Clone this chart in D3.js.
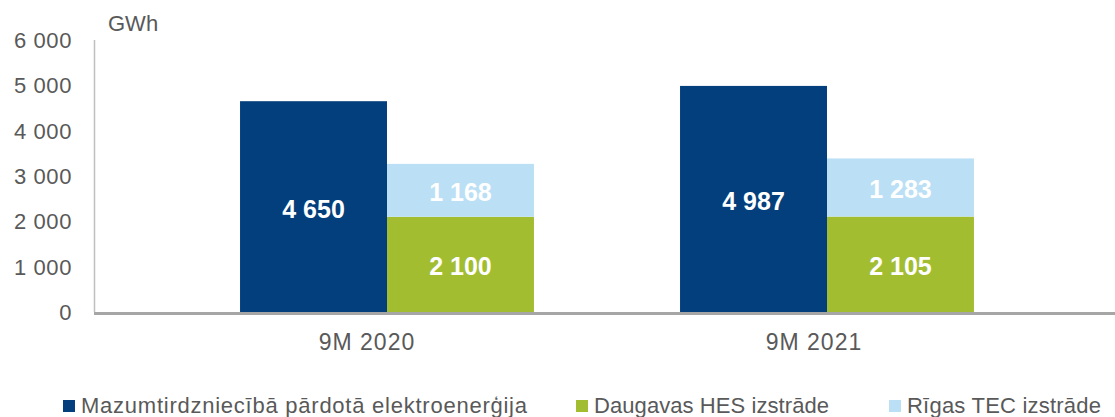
<!DOCTYPE html>
<html>
<head>
<meta charset="utf-8">
<script src="https://cdn.jsdelivr.net/npm/d3@7"></script>
<style>
  body { margin: 0; background: #fff; }
  svg text { font-family: "Liberation Sans", Arial, sans-serif; }
</style>
</head>
<body>
<div id="chart"></div>
<script>
// Data
var categories = ["9M 2020", "9M 2021"];
var retailSales = [4650, 4987];      // Mazumtirdzniecībā pārdotā elektroenerģija
var daugavasHes = [2100, 2105];      // Daugavas HES izstrāde
var rigasTec = [1168, 1283];         // Rīgas TEC izstrāde
var yTicks = [0, 1000, 2000, 3000, 4000, 5000, 6000];
var legendLabels = ["Mazumtirdzniecībā pārdotā elektroenerģija", "Daugavas HES izstrāde", "Rīgas TEC izstrāde"];

// Styles
var colors = ["#023f7c", "#a3bd31", "#bbe0f5"];
var textColor = "#595959";
var width = 1115, height = 417;

var svg = d3.select("#chart").append("svg")
    .attr("width", width)
    .attr("height", height);

// Scales
var y = d3.scaleLinear().domain([0, 6000]).range([312, 40]);

var x = d3.scaleBand()
    .domain(categories)
    .range([167, 1047])
    .paddingInner(0.332)
    .paddingOuter(0.166);

var sub = d3.scaleBand()
    .domain(["main", "stack"])
    .range([0, x.bandwidth()]);

var labelX = d3.scalePoint().domain(categories).range([367, 814]);

var fmt = function(v) { return d3.format(",")(v).replace(/,/g, " "); };

// Y axis line
svg.append("line")
    .attr("x1", 94.5).attr("x2", 94.5)
    .attr("y1", y(6000)).attr("y2", y(0))
    .attr("stroke", "#bfbfbf").attr("stroke-width", 1.5);

// Y tick labels
svg.selectAll(".ytick")
    .data(yTicks)
    .enter().append("text")
    .attr("x", 72)
    .attr("y", function(d) { return y(d); })
    .attr("dy", "0.36em")
    .attr("text-anchor", "end")
    .attr("font-size", 22)
    .attr("letter-spacing", 0.6)
    .attr("fill", textColor)
    .text(fmt);

svg.append("text")
    .attr("x", 108).attr("y", 31)
    .attr("font-size", 22)
    .attr("fill", textColor)
    .text("GWh");

// Build stacks for the right-hand bar
var rows = categories.map(function(c, i) {
    return { cat: c, retail: retailSales[i], hes: daugavasHes[i], tec: rigasTec[i] };
});

var groups = svg.selectAll(".grp")
    .data(rows)
    .enter().append("g")
    .attr("transform", function(d) { return "translate(" + x(d.cat) + ",0)"; });

// Retail bar
groups.append("rect")
    .attr("x", sub("main"))
    .attr("y", function(d) { return y(d.retail); })
    .attr("width", sub.bandwidth())
    .attr("height", function(d) { return y(0) - y(d.retail); })
    .attr("fill", colors[0]);

groups.append("text")
    .attr("x", sub("main") + sub.bandwidth() / 2)
    .attr("y", function(d) { return (y(d.retail) + y(0)) / 2 + 2; })
    .attr("dy", "0.36em")
    .attr("text-anchor", "middle")
    .attr("font-size", 25).attr("font-weight", "bold")
    .attr("fill", "#fff")
    .text(function(d) { return fmt(d.retail); });

// Stacked production bar
var stack = d3.stack().keys(["hes", "tec"]);
var series = stack(rows);

series.forEach(function(s, si) {
    groups.data(s).append("rect")
        .attr("x", sub("stack"))
        .attr("y", function(d) { return y(d[1]); })
        .attr("width", sub.bandwidth())
        .attr("height", function(d) { return y(d[0]) - y(d[1]); })
        .attr("fill", colors[si + 1]);

    groups.data(s).append("text")
        .attr("x", sub("stack") + sub.bandwidth() / 2)
        .attr("y", function(d) { return (y(d[0]) + y(d[1])) / 2 + 2; })
        .attr("dy", "0.36em")
        .attr("text-anchor", "middle")
        .attr("font-size", 25).attr("font-weight", "bold")
        .attr("fill", "#fff")
        .text(function(d) { return fmt(d[1] - d[0]); });
});

// X axis line
svg.append("line")
    .attr("x1", 94).attr("x2", width)
    .attr("y1", 313.5).attr("y2", 313.5)
    .attr("stroke", "#a6a6a6").attr("stroke-width", 3);

// Category labels
svg.selectAll(".xlab")
    .data(categories)
    .enter().append("text")
    .attr("x", function(d) { return labelX(d); })
    .attr("y", 350)
    .attr("text-anchor", "middle")
    .attr("font-size", 23)
    .attr("letter-spacing", 1)
    .attr("fill", textColor)
    .text(function(d) { return d; });

// Legend
var legendX = [63, 576, 889];
var legendW = [446, 235, 194];
var legend = svg.selectAll(".leg")
    .data(legendLabels)
    .enter().append("g")
    .attr("transform", function(d, i) { return "translate(" + legendX[i] + ",400)"; });

legend.append("rect")
    .attr("width", 12).attr("height", 12)
    .attr("fill", function(d, i) { return colors[i]; });

legend.append("text")
    .attr("x", 18).attr("y", 13)
    .attr("font-size", 22)
    .attr("textLength", function(d, i) { return legendW[i]; })
    .attr("lengthAdjust", "spacing")
    .attr("fill", textColor)
    .text(function(d) { return d; });
</script>
</body>
</html>
